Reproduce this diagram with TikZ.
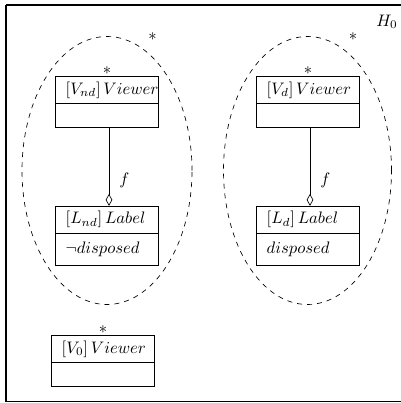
\documentclass[tikz,border=0pt]{standalone}
\usetikzlibrary{arrows.meta,shapes.geometric}
\begin{document}
\begin{tikzpicture}[x=0.6pt,y=-0.6pt,
  hdr/.style={draw, rectangle, minimum width=61.6pt, minimum height=16.2pt,
    text width=49.6pt, inner xsep=6pt, inner ysep=0pt, align=left},
  vbody/.style={rectangle, minimum width=61.6pt, minimum height=13.5pt,
    text width=49.6pt, inner xsep=6pt, inner ysep=0pt, align=left, anchor=north},
  lbody/.style={vbody, minimum height=18.4pt},
  star/.style={label={[inner sep=1pt]above:$*$}},
  grp/.style={draw, dashed, ellipse, inner sep=0pt, minimum height=160.8pt},
  agg/.style={-{Diamond[open,length=7.2pt,width=4pt]}},
  frame/.style={line width=0.9pt}]
\useasboundingbox (0,0) rectangle (400,403);
\draw[frame] (6,5) -- (6,401.5) -- (420,401.5) (6,5) -- (420,5);
\node[anchor=west, inner sep=0pt] (H) at (376,22) {$H_0$};
% groups
\node[grp, minimum width=102pt, label={[label distance=1pt]74:$*$}] (G1) at (107,170.5) {};
\node[grp, minimum width=100.8pt, label={[label distance=1pt]74:$*$}] (G2) at (307.5,170.5) {};
% left group
\node[hdr, star] (Vnd) at (107,90.1) {\mbox{$[V_{nd}]\,Viewer$}};
\node[vbody] (Vndb) at (Vnd.south) {};
\node[hdr] (Lnd) at (107,219.7) {\mbox{$[L_{nd}]\,Label$}};
\node[lbody] (Lndb) at (Lnd.south) {\mbox{$\neg disposed$}};
% right group
\node[hdr, star] (Vd) at (308,90.1) {\mbox{$[V_{d}]\,Viewer$}};
\node[vbody] (Vdb) at (Vd.south) {};
\node[hdr] (Ld) at (308,219.7) {\mbox{$[L_{d}]\,Label$}};
\node[lbody] (Ldb) at (Ld.south) {\mbox{$disposed$}};
% lone viewer
\node[hdr, star] (V0) at (103,349.2) {\mbox{$[V_{0}]\,Viewer$}};
\node[vbody] (V0b) at (V0.south) {};
% body outlines (top edge is the header's bottom edge)
\foreach \b in {Vndb,Lndb,Vdb,Ldb,V0b}
  \draw (\b.north west) -- (\b.south west) -- (\b.south east) -- (\b.north east);
% aggregations
\draw[agg] ([xshift=1.2pt]Vndb.south) -- node[pos=0.68, anchor=west, inner sep=0pt, xshift=6pt] (f1) {$f$} ([xshift=1.2pt]Lnd.north);
\draw[agg] ([xshift=1.2pt]Vdb.south) -- node[pos=0.68, anchor=west, inner sep=0pt, xshift=6pt] (f2) {$f$} ([xshift=1.2pt]Ld.north);
\end{tikzpicture}
\end{document}
